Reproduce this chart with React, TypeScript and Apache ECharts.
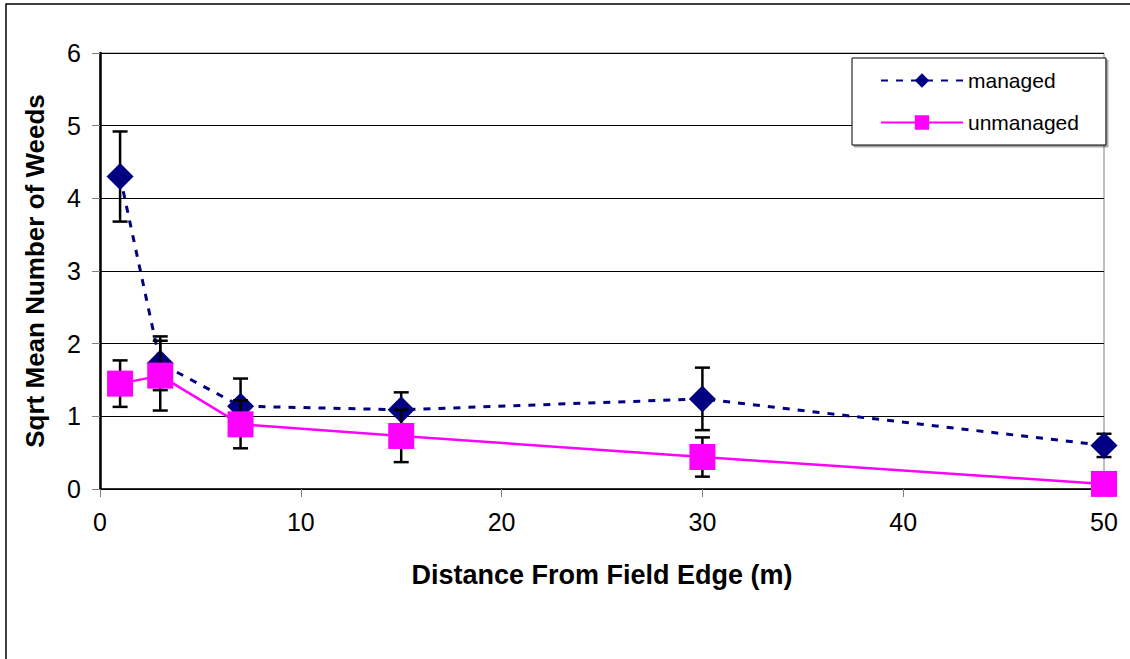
import React, { useEffect, useRef } from "react";
import * as echarts from "echarts";

const distances = [1, 3, 7, 15, 30, 50];
const managed = [4.3, 1.73, 1.14, 1.09, 1.24, 0.6];
const managedErr = [0.62, 0.37, 0.38, 0.24, 0.43, 0.16];
const unmanaged = [1.45, 1.56, 0.89, 0.73, 0.44, 0.07];
const unmanagedErr = [0.32, 0.48, 0.33, 0.36, 0.27, 0.05];

const FONT = "'Liberation Sans', Arial, sans-serif";

function errorSeries(name: string, vals: number[], errs: number[], z: number) {
  return {
    type: "custom",
    name: name + "-err",
    z,
    silent: true,
    data: distances.map((d, i) => [d, vals[i] - errs[i], vals[i] + errs[i]]),
    renderItem: (params: any, api: any) => {
      const x = api.value(0);
      const lo = api.coord([x, api.value(1)]);
      const hi = api.coord([x, api.value(2)]);
      const w = 7.5;
      const st = { stroke: "#000", lineWidth: 2.5 };
      return {
        type: "group",
        children: [
          { type: "line", shape: { x1: lo[0], y1: lo[1], x2: hi[0], y2: hi[1] }, style: st },
          { type: "line", shape: { x1: lo[0] - w, y1: lo[1], x2: lo[0] + w, y2: lo[1] }, style: st },
          { type: "line", shape: { x1: hi[0] - w, y1: hi[1], x2: hi[0] + w, y2: hi[1] }, style: st },
        ],
      };
    },
  };
}

export default function App() {
  const ref = useRef<HTMLDivElement>(null);
  useEffect(() => {
    document.body.style.margin = "0";
    const chart = echarts.init(ref.current!, null, { renderer: "svg" });
    chart.setOption({
      animation: false,
      backgroundColor: "#fff",
      textStyle: { fontFamily: FONT },
      graphic: [
        {
          type: "rect",
          shape: { x: 6, y: 4, width: 1150, height: 700 },
          style: { fill: "none", stroke: "#000", lineWidth: 1.5 },
          silent: true,
        },
      ],
      grid: {
        left: 100,
        right: 26,
        top: 53,
        bottom: 170,
        show: true,
        borderColor: "#808080",
        borderWidth: 1,
        backgroundColor: "transparent",
      },
      legend: {
        data: ["managed", "unmanaged"],
        orient: "vertical",
        left: 852,
        top: 58,
        padding: [12, 27, 12, 28],
        itemWidth: 82,
        itemHeight: 18,
        itemGap: 21,
        backgroundColor: "#fff",
        borderColor: "#000",
        borderWidth: 1,
        shadowColor: "rgba(0,0,0,0.35)",
        shadowOffsetX: 2,
        shadowOffsetY: 2,
        textStyle: { fontSize: 21, color: "#000", fontFamily: FONT },
      },
      xAxis: {
        type: "value",
        min: 0,
        max: 50,
        interval: 10,
        name: "Distance From Field Edge (m)",
        nameLocation: "middle",
        nameGap: 72,
        nameTextStyle: { fontSize: 27, fontWeight: "bold", color: "#000", fontFamily: FONT },
        axisLine: { show: true, onZero: false, lineStyle: { color: "#000", width: 1.5 } },
        axisTick: { show: true, length: 8, lineStyle: { color: "#808080", width: 1 } },
        axisLabel: { fontSize: 25, color: "#000", margin: 20, fontFamily: FONT },
        splitLine: { show: false },
      },
      yAxis: {
        type: "value",
        min: 0,
        max: 6,
        interval: 1,
        name: "Sqrt Mean Number of Weeds",
        nameLocation: "middle",
        nameRotate: 90,
        nameGap: 52,
        nameTextStyle: { fontSize: 26, fontWeight: "bold", color: "#000", fontFamily: FONT },
        axisLine: { show: true, lineStyle: { color: "#000", width: 2.5 } },
        axisTick: { show: true, length: 8, lineStyle: { color: "#808080", width: 1 } },
        axisLabel: { fontSize: 25, color: "#000", margin: 19, fontFamily: FONT },
        splitLine: { show: true, lineStyle: { color: "#000", width: 1 } },
      },
      series: [
        errorSeries("managed", managed, managedErr, 1),
        {
          type: "line",
          name: "managed",
          z: 2,
          data: distances.map((d, i) => [d, managed[i]]),
          symbol: "diamond",
          symbolSize: 27,
          itemStyle: { color: "#000080" },
          lineStyle: { color: "#000080", width: 3, type: [7, 8] },
        },
        errorSeries("unmanaged", unmanaged, unmanagedErr, 3),
        {
          type: "line",
          name: "unmanaged",
          z: 4,
          data: distances.map((d, i) => [d, unmanaged[i]]),
          symbol: "rect",
          symbolSize: 26,
          itemStyle: { color: "#FF00FF" },
          lineStyle: { color: "#FF00FF", width: 2.5 },
        },
      ],
    });
    return () => chart.dispose();
  }, []);
  return <div ref={ref} style={{ width: 1130, height: 659 }} />;
}
